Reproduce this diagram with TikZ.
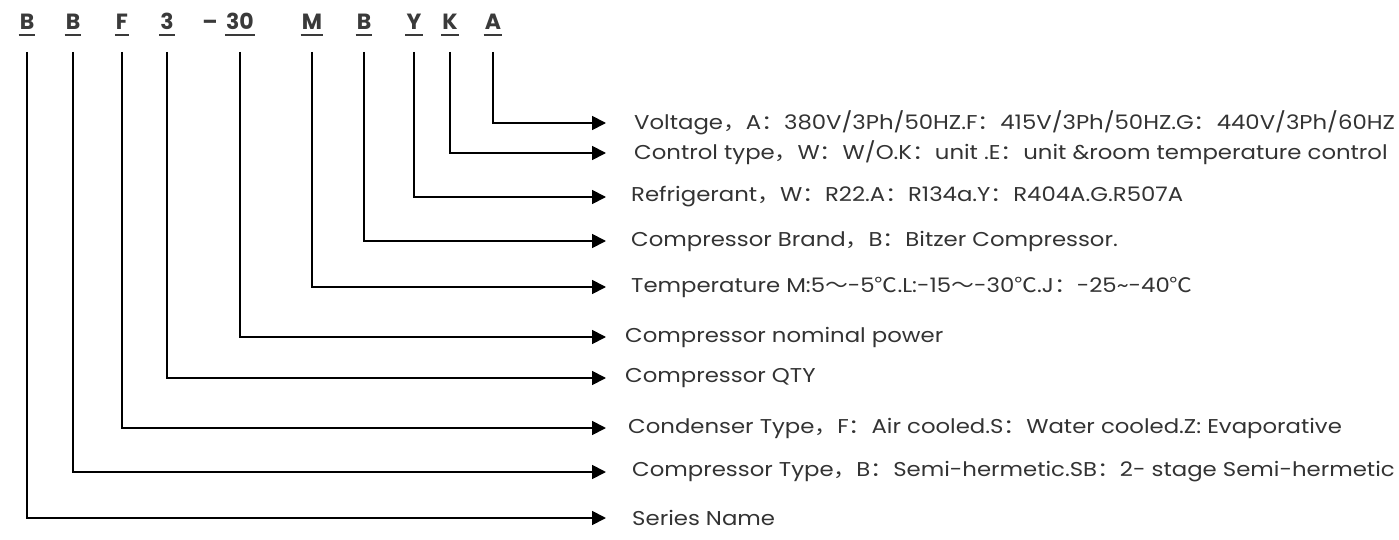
\documentclass[tikz,border=0pt]{standalone}
\usepackage{fontspec}
\setmainfont{Poppins}
\newfontfamily\cjk{Noto Sans CJK SC}
\usetikzlibrary{arrows.meta}
\newcommand\zcomma{{\cjk ，}}
\newcommand\zcolon{{\cjk ：}}
\newcommand\ztilde{{\cjk ～}}
\newcommand\zdeg{{\cjk ℃}}
\definecolor{ink}{HTML}{333333}
\definecolor{codeink}{HTML}{3A3A3A}
\tikzset{
  code/.style={font=\fontsize{22}{24}\selectfont\bfseries, text=codeink, inner xsep=1pt, inner ysep=4.5pt, anchor=base},
  uline/.style={draw=codeink, line width=1.8pt},
  desc/.style={font=\fontsize{20}{22}\selectfont, text=ink, anchor=west, inner sep=0pt, xscale=1.14, transform shape},
  conn/.style={draw=black, line width=1.8pt, -{Triangle[length=14pt,width=14pt]}},
}
\begin{document}
\begin{tikzpicture}[x=1pt,y=-1pt]
\useasboundingbox (0,0) rectangle (1399,540);
\coordinate (top) at (0,52);
\coordinate (tip) at (606,0);
% code letters
\node[code] (cB1) at (27,30) {B};
\node[code] (cB2) at (73,30) {B};
\node[code] (cF) at (122,30) {F};
\node[code] (c3) at (167,30) {3};
\node[code] (cdash) at (210,30) {\textendash};
\node[code] (c30) at (240,30) {30};
\node[code] (cM) at (312,30) {M};
\node[code] (cB3) at (364,30) {B};
\node[code] (cY) at (414,30) {Y};
\node[code] (cK) at (450,30) {K};
\node[code] (cA) at (493,30) {A};
\foreach \n in {cB1,cB2,cF,c3,c30,cM,cB3,cY,cK,cA}
  \draw[uline] (\n.south west) -- (\n.south east);
% descriptions
\node[desc] (tA) at (634,123) {Voltage\zcomma A\zcolon 380V/3Ph/50HZ.F\zcolon 415V/3Ph/50HZ.G\zcolon 440V/3Ph/60HZ};
\node[desc] (tK) at (634,153) {Control type\zcomma W\zcolon W/O.K\zcolon unit .E\zcolon unit \&room temperature control};
\node[desc] (tY) at (631,197) {Refrigerant\zcomma W\zcolon R22.A\zcolon R134a.Y\zcolon R404A.G.R507A};
\node[desc] (tB3) at (631,241) {Compressor Brand\zcomma B\zcolon Bitzer Compressor.};
\node[desc] (tM) at (631,287) {Temperature M:5\ztilde-5\zdeg.L:-15\ztilde-30\zdeg.J\zcolon -25\textasciitilde-40\zdeg};
\node[desc] (t30) at (625,337) {Compressor nominal power};
\node[desc] (t3) at (625,378) {Compressor QTY};
\node[desc] (tF) at (628,428) {Condenser Type\zcomma F\zcolon Air cooled.S\zcolon Water cooled.Z: Evaporative};
\node[desc] (tB2) at (632,472) {Compressor Type\zcomma B\zcolon Semi-hermetic.SB\zcolon 2- stage Semi-hermetic};
\node[desc] (tB1) at (632,518) {Series Name};
% connectors
\draw[conn] (cA |- top) |- (tip |- tA.west);
\draw[conn] (cK |- top) |- (tip |- tK.west);
\draw[conn] (cY |- top) |- (tip |- tY.west);
\draw[conn] (cB3 |- top) |- (tip |- tB3.west);
\draw[conn] (cM |- top) |- (tip |- tM.west);
\draw[conn] (c30 |- top) |- (tip |- t30.west);
\draw[conn] (c3 |- top) |- (tip |- t3.west);
\draw[conn] (cF |- top) |- (tip |- tF.west);
\draw[conn] (cB2 |- top) |- (tip |- tB2.west);
\draw[conn] (cB1 |- top) |- (tip |- tB1.west);
\end{tikzpicture}
\end{document}
